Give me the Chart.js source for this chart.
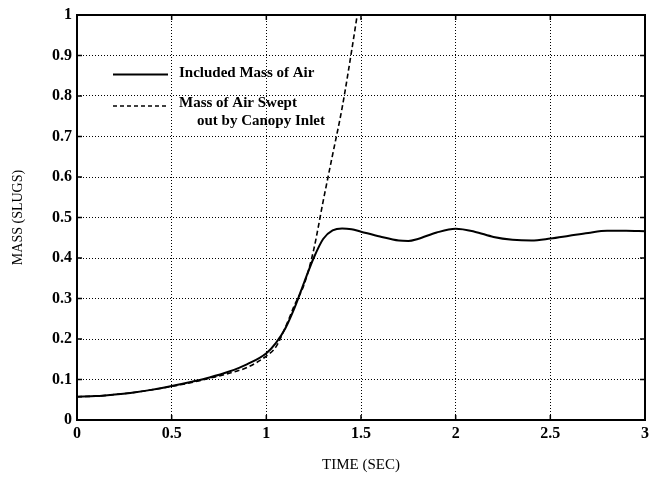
<!DOCTYPE html>
<html>
<head>
<meta charset="utf-8">
<script src="https://cdn.jsdelivr.net/npm/chart.js@4"></script>
<style>
  html, body { margin: 0; padding: 0; background: #fff; }
  #wrap { width: 660px; height: 479px; }
</style>
</head>
<body>
<div id="wrap"><canvas id="myChart" width="660" height="479"></canvas></div>
<script>
// time (sec) and mass (slugs)
var includedTime = [0, 0.1, 0.2, 0.3, 0.4, 0.5, 0.6, 0.7, 0.8, 0.9, 1.0, 1.05, 1.1, 1.15, 1.2, 1.25, 1.3, 1.35, 1.4, 1.45, 1.5, 1.6, 1.7, 1.75, 1.8, 1.9, 2.0, 2.1, 2.2, 2.3, 2.4, 2.5, 2.6, 2.7, 2.8, 2.9, 3.0];
var includedMass = [0.0575, 0.059, 0.063, 0.068, 0.075, 0.084, 0.094, 0.105, 0.119, 0.138, 0.165, 0.19, 0.226, 0.278, 0.34, 0.40, 0.447, 0.468, 0.473, 0.471, 0.465, 0.453, 0.443, 0.442, 0.447, 0.463, 0.472, 0.465, 0.452, 0.445, 0.443, 0.448, 0.455, 0.462, 0.467, 0.467, 0.466];

var sweptTime = [0, 0.1, 0.2, 0.3, 0.4, 0.5, 0.6, 0.7, 0.8, 0.9, 1.0, 1.05, 1.1, 1.15, 1.2, 1.25, 1.3, 1.35, 1.4, 1.45, 1.48];
var sweptMass = [0.0575, 0.059, 0.063, 0.068, 0.075, 0.083, 0.092, 0.103, 0.115, 0.130, 0.158, 0.18, 0.228, 0.285, 0.335, 0.42, 0.54, 0.655, 0.77, 0.91, 1.0];

var xTicks = [0, 0.5, 1, 1.5, 2, 2.5, 3];
var yTicks = [0, 0.1, 0.2, 0.3, 0.4, 0.5, 0.6, 0.7, 0.8, 0.9, 1];

var legendLabels = ['Included Mass of Air', 'Mass of Air Swept', 'out by Canopy Inlet'];

function toPoints(xs, ys) {
    return xs.map(function (x, i) { return { x: x, y: ys[i] }; });
}

// frame, inward ticks and the in-plot legend
var framePlugin = {
    id: 'frame',
    afterDraw: function (chart) {
        var ctx = chart.ctx;
        var a = chart.chartArea;
        var xs = chart.scales.x, ys = chart.scales.y;
        ctx.save();
        ctx.strokeStyle = '#000';
        ctx.lineWidth = 2;
        ctx.strokeRect(a.left, a.top, a.right - a.left, a.bottom - a.top);
        ctx.lineWidth = 1.5;
        ctx.beginPath();
        xTicks.forEach(function (t) {
            var px = xs.getPixelForValue(t);
            ctx.moveTo(px, a.bottom); ctx.lineTo(px, a.bottom - 5);
            ctx.moveTo(px, a.top); ctx.lineTo(px, a.top + 5);
        });
        yTicks.forEach(function (t) {
            var py = ys.getPixelForValue(t);
            ctx.moveTo(a.left, py); ctx.lineTo(a.left + 5, py);
            ctx.moveTo(a.right, py); ctx.lineTo(a.right - 5, py);
        });
        ctx.stroke();

        // legend
        var lx = a.left + 36, lw = 55;
        ctx.lineWidth = 2;
        ctx.beginPath();
        ctx.moveTo(lx, a.top + 59.5); ctx.lineTo(lx + lw, a.top + 59.5);
        ctx.stroke();
        ctx.lineWidth = 1.5;
        ctx.setLineDash([4, 3]);
        ctx.beginPath();
        ctx.moveTo(lx, a.top + 91); ctx.lineTo(lx + lw, a.top + 91);
        ctx.stroke();
        ctx.setLineDash([]);
        ctx.fillStyle = '#000';
        ctx.font = 'bold 15px "Liberation Serif"';
        ctx.textBaseline = 'alphabetic';
        ctx.fillText(legendLabels[0], a.left + 102, a.top + 62);
        ctx.fillText(legendLabels[1], a.left + 102, a.top + 92);
        ctx.fillText(legendLabels[2], a.left + 120, a.top + 110);
        ctx.restore();
    }
};

var ctx = document.getElementById('myChart').getContext('2d');
var myChart = new Chart(ctx, {
    type: 'line',
    data: {
        datasets: [{
            label: legendLabels[0],
            data: toPoints(includedTime, includedMass),
            borderColor: '#000',
            borderWidth: 2,
            pointRadius: 0,
            cubicInterpolationMode: 'monotone',
            fill: false
        }, {
            label: legendLabels[1] + ' ' + legendLabels[2],
            data: toPoints(sweptTime, sweptMass),
            borderColor: '#000',
            borderWidth: 1.6,
            borderDash: [5, 3],
            pointRadius: 0,
            cubicInterpolationMode: 'monotone',
            fill: false
        }]
    },
    options: {
        responsive: false,
        animation: false,
        layout: { padding: { top: 15, right: 15, left: 0, bottom: 0 } },
        plugins: {
            legend: { display: false },
            tooltip: { enabled: false }
        },
        scales: {
            x: {
                type: 'linear',
                min: 0,
                max: 3,
                afterBuildTicks: function (scale) {
                    scale.ticks = xTicks.map(function (v) { return { value: v }; });
                },
                afterFit: function (scale) { scale.height = 59; },
                ticks: {
                    color: '#000',
                    padding: 4,
                    font: { family: '"Liberation Serif"', size: 16, weight: 'bold' },
                    callback: function (v) { return String(v); }
                },
                grid: { color: '#000', lineWidth: 1, drawTicks: false },
                border: { display: false, dash: [1, 2] },
                title: {
                    display: true,
                    text: 'TIME (SEC)',
                    color: '#000',
                    font: { family: '"Liberation Serif"', size: 15 },
                    padding: { top: 0, bottom: 5 }
                }
            },
            y: {
                min: 0,
                max: 1,
                afterBuildTicks: function (scale) {
                    scale.ticks = yTicks.map(function (v) { return { value: v }; });
                },
                afterFit: function (scale) { scale.width = 77; },
                ticks: {
                    color: '#000',
                    padding: 5,
                    font: { family: '"Liberation Serif"', size: 16, weight: 'bold' },
                    callback: function (v) { return String(v); }
                },
                grid: { color: '#000', lineWidth: 1, drawTicks: false },
                border: { display: false, dash: [1, 2] },
                title: {
                    display: true,
                    text: 'MASS (SLUGS)',
                    color: '#000',
                    font: { family: '"Liberation Serif"', size: 14 },
                    padding: { top: 10, bottom: 0 }
                }
            }
        }
    },
    plugins: [framePlugin]
});
</script>
</body>
</html>
